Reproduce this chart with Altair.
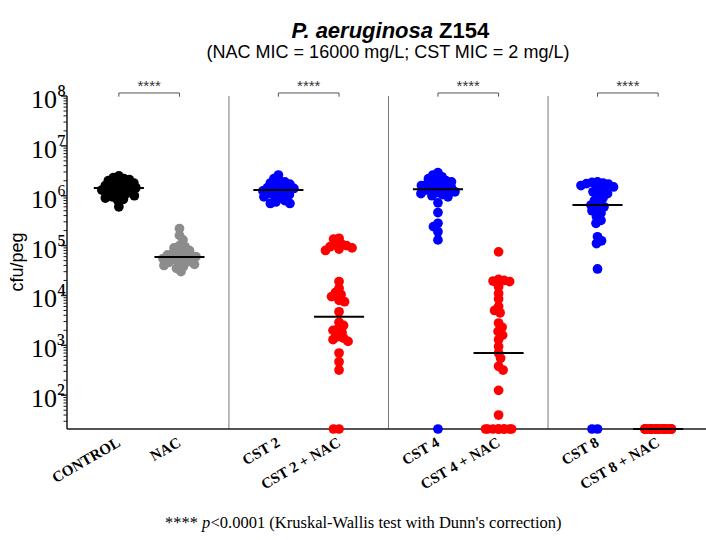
import math
import altair as alt
import pandas as pd

# ---------------- data ----------------
CATEGORIES = ["CONTROL", "NAC", "CST 2", "CST 2 + NAC",
              "CST 4", "CST 4 + NAC", "CST 8", "CST 8 + NAC"]
COLORS = ["#000000", "#8c8c8c", "#0000ff", "#ff0000",
          "#0000ff", "#ff0000", "#0000ff", "#ff0000"]

control = [2.5e6, 2.3e6, 2.2e6, 2.1e6, 2.0e6, 1.9e6, 1.8e6, 1.75e6, 1.7e6,
           1.6e6, 1.55e6, 1.5e6, 1.45e6, 1.4e6, 1.35e6, 1.3e6, 1.25e6, 1.2e6,
           1.15e6, 1.1e6, 1.05e6, 1.0e6, 9.5e5, 9e5, 8.5e5, 8e5, 6e5]
nac = [2.2e5, 1.6e5, 1.3e5, 1.0e5, 9.5e4, 9e4, 8e4, 7.5e4, 7e4, 6.8e4,
       6.5e4, 6.2e4, 6e4, 5.8e4, 5.5e4, 5.3e4, 5e4, 4.8e4, 4.6e4, 4.4e4,
       4.2e4, 4e4, 3.8e4, 3.5e4, 3e4]
cst2 = [2.6e6, 2.2e6, 2.0e6, 1.9e6, 1.8e6, 1.7e6, 1.6e6, 1.5e6, 1.45e6,
        1.4e6, 1.35e6, 1.3e6, 1.25e6, 1.2e6, 1.15e6, 1.1e6, 1.05e6, 1.0e6,
        9.5e5, 9e5, 8e5, 7.5e5, 7e5, 7e5]
cst2_nac = [1.4e5, 1.35e5, 1.1e5, 1.05e5, 1.0e5, 9.5e4, 9e4, 8.5e4, 8e4,
            1.9e4, 1.4e4, 1.15e4, 1.05e4, 9.5e3, 8e3, 7.5e3, 4.7e3, 2.9e3,
            2.5e3, 2.2e3, 2.0e3, 1.8e3, 1.5e3, 1.4e3, 1.3e3, 1.2e3, 7e2,
            4.7e2, 3.2e2, 0, 0]
cst4 = [2.9e6, 2.6e6, 2.4e6, 2.2e6, 2.1e6, 2.0e6, 1.9e6, 1.8e6, 1.75e6,
        1.7e6, 1.6e6, 1.55e6, 1.5e6, 1.45e6, 1.4e6, 1.35e6, 1.3e6, 1.25e6,
        1.2e6, 1.15e6, 1.1e6, 1.05e6, 1.0e6, 9.5e5, 7.2e5, 4.6e5, 2.8e5,
        2.4e5, 1.9e5, 1.3e5, 0]
cst4_nac = [7.5e4, 2.1e4, 2.0e4, 1.95e4, 1.9e4, 1.5e4, 1.1e4, 8.5e3, 6e3,
            5e3, 4.5e3, 2.8e3, 2.3e3, 1.9e3, 1.6e3, 1.3e3, 9.5e2, 7e2, 5.5e2,
            3.8e2, 3.2e2, 1.25e2, 4e1, 0, 0, 0, 0, 0, 0, 0, 0, 0]
cst8 = [1.9e6, 1.85e6, 1.8e6, 1.75e6, 1.7e6, 1.6e6, 1.5e6, 1.4e6, 1.3e6,
        1.2e6, 1.1e6, 1.0e6, 9e5, 8e5, 7e5, 6.5e5, 6e5, 5.5e5, 5e5, 4.5e5,
        3.8e5, 3.2e5, 2.8e5, 1.5e5, 1.25e5, 1.1e5, 3.4e4, 0, 0]
cst8_nac = [0] * 30

SERIES = [control, nac, cst2, cst2_nac, cst4, cst4_nac, cst8, cst8_nac]
MEDIANS = [1.43e6, 5.9e4, 1.3e6, 3.75e3, 1.35e6, 7.0e2, 6.5e5, 0]

Y_MAJOR = [1e2, 1e3, 1e4, 1e5, 1e6, 1e7, 1e8]
Y_MINOR_MULT = [2, 3, 4, 5, 6, 7, 8, 9]

TITLE_ITALIC = "P. aeruginosa"
TITLE_PLAIN = "Z154"
SUBTITLE = "(NAC MIC = 16000 mg/L; CST MIC = 2 mg/L)"
SIG = "****"
FOOT_PREFIX = "****"
FOOT_P = "p"
FOOT_REST = "<0.0001 (Kruskal-Wallis test with Dunn's correction)"
Y_TITLE = "cfu/peg"

# ---------------- layout ----------------
W, H = 639, 333
PAD_L, PAD_T = 67, 96
X_DOMAIN = [-0.015, 3.99]
Y_FLOOR = 21
Y_TOP = 1e8
PX_PER_UNIT = W / (X_DOMAIN[1] - X_DOMAIN[0])
PX_PER_DEC = H / (math.log10(Y_TOP) - math.log10(Y_FLOOR))
SIDE = 0.19
MED_HALF = 0.157
DOT_GAP = 5.5
AXIS_COLOR = "#1a1a1a"


def swarm(values, max_off):
    ys = [math.log10(max(v, Y_FLOOR)) * PX_PER_DEC for v in values]
    order = sorted(range(len(values)), key=lambda i: -ys[i])
    steps = []
    k = 0.5
    while k <= max_off + 1e-9:
        steps.append(k)
        k += 0.5
    placed = []
    offs = [0.0] * len(values)
    for n, i in enumerate(order):
        y = ys[i]
        sgn = 1 if n % 2 == 0 else -1
        cands = [0.0]
        for s in steps:
            cands += [sgn * s, -sgn * s]
        chosen = None
        for c in cands:
            if all((c - px) ** 2 + (y - py) ** 2 >= DOT_GAP ** 2 for px, py in placed):
                chosen = c
                break
        if chosen is None:
            chosen = min(cands, key=lambda c: sum(
                max(0.0, DOT_GAP - math.hypot(c - px, y - py)) for px, py in placed))
        placed.append((chosen, y))
        offs[i] = chosen
    return offs


centers = []
for i, cat in enumerate(CATEGORIES):
    g = i // 2
    centers.append(round(g + 0.5 + (SIDE if i % 2 else -SIDE), 4))

rows = []
for i, (cat, vals) in enumerate(zip(CATEGORIES, SERIES)):
    nz = [v for v in vals if v > 0]
    z = [v for v in vals if v <= 0]
    offs_nz = swarm(nz, 17)
    offs_z = swarm(z, 13)
    for v, o in zip(nz, offs_nz):
        rows.append({"cat": cat, "x": centers[i] + o / PX_PER_UNIT, "y": v})
    for v, o in zip(z, offs_z):
        rows.append({"cat": cat, "x": centers[i] + o / PX_PER_UNIT, "y": Y_FLOOR})
pts = pd.DataFrame(rows)

med = pd.DataFrame({
    "x": [c - MED_HALF for c in centers],
    "x2": [c + MED_HALF for c in centers],
    "y": [max(m, Y_FLOOR) for m in MEDIANS],
})

sep = pd.DataFrame({"x": [1, 2, 3], "y": [Y_FLOOR] * 3, "y2": [Y_TOP] * 3})

pairs = pd.DataFrame({
    "xl": [centers[2 * g] for g in range(4)],
    "xr": [centers[2 * g + 1] for g in range(4)],
    "xm": [(centers[2 * g] + centers[2 * g + 1]) / 2 for g in range(4)],
    "yb": [1.15e8] * 4,
    "ys": [1.62e8] * 4,
    "t": [SIG] * 4,
})
legs = pd.DataFrame({
    "x": list(pairs["xl"]) + list(pairs["xr"]),
    "y": [1.15e8] * 8,
    "y2": [0.97e8] * 8,
})

SUPS = "⁰¹²³⁴⁵⁶⁷⁸⁹"
ylab = pd.DataFrame({
    "v": Y_MAJOR,
    "base": ["10"] * len(Y_MAJOR),
    "exp": [SUPS[round(math.log10(v))] for v in Y_MAJOR],
})

minor = [m * 10 ** e for e in range(1, 8) for m in Y_MINOR_MULT
         if Y_FLOOR <= m * 10 ** e <= Y_TOP]
x0 = X_DOMAIN[0]
major_df = pd.DataFrame({"v": Y_MAJOR, "x": [x0 - 6 / PX_PER_UNIT] * len(Y_MAJOR),
                         "x2": [x0] * len(Y_MAJOR)})
minor_df = pd.DataFrame({"v": minor, "x": [x0 - 3.5 / PX_PER_UNIT] * len(minor),
                         "x2": [x0] * len(minor)})
yline_df = pd.DataFrame({"x": [x0], "y": [Y_FLOOR], "y2": [Y_TOP]})
xline_df = pd.DataFrame({"x": [x0], "x2": [X_DOMAIN[1]], "y": [Y_FLOOR]})
xlab_df = pd.DataFrame({"x": centers, "t": CATEGORIES})

xscale = alt.Scale(domain=X_DOMAIN, nice=False, zero=False)
yscale = alt.Scale(type="log", domain=[Y_FLOOR, Y_TOP], nice=False)

X = lambda f: alt.X(f, scale=xscale, axis=None)
Y = lambda f: alt.Y(f, scale=yscale, axis=None)

yline = alt.Chart(yline_df).mark_rule(color=AXIS_COLOR, strokeWidth=1.5).encode(
    x=X("x:Q"), y=Y("y:Q"), y2="y2:Q")
xline = alt.Chart(xline_df).mark_rule(color=AXIS_COLOR, strokeWidth=1.5).encode(
    x=X("x:Q"), x2="x2:Q", y=Y("y:Q"))
major_ticks = alt.Chart(major_df).mark_rule(color=AXIS_COLOR, strokeWidth=1.5).encode(
    x=X("x:Q"), x2="x2:Q", y=Y("v:Q"))
minor_ticks = alt.Chart(minor_df).mark_rule(color=AXIS_COLOR, strokeWidth=1).encode(
    x=X("x:Q"), x2="x2:Q", y=Y("v:Q"))

points = alt.Chart(pts).mark_circle(size=95, opacity=1).encode(
    x=X("x:Q"), y=Y("y:Q"),
    color=alt.Color("cat:N", scale=alt.Scale(domain=CATEGORIES, range=COLORS), legend=None),
)

separators = alt.Chart(sep).mark_rule(color="#777777", strokeWidth=1).encode(
    x=X("x:Q"), y=Y("y:Q"), y2="y2:Q")

medians = alt.Chart(med).mark_rule(color="black", strokeWidth=2).encode(
    x=X("x:Q"), x2="x2:Q", y=Y("y:Q"))

brackets = alt.Chart(pairs).mark_rule(color="#555555", strokeWidth=1).encode(
    x=X("xl:Q"), x2="xr:Q", y=Y("yb:Q"))
bracket_legs = alt.Chart(legs).mark_rule(color="#555555", strokeWidth=1).encode(
    x=X("x:Q"), y=Y("y:Q"), y2="y2:Q")
stars = alt.Chart(pairs).mark_text(font="Liberation Sans", fontSize=15, color="#333333",
                                   baseline="middle").encode(
    x=X("xm:Q"), y=Y("ys:Q"), text="t:N")

ybase = alt.Chart(ylab).mark_text(font="Liberation Serif", fontSize=26, color="black",
                                  align="right", baseline="middle", dy=4).encode(
    x=alt.value(-10), y=Y("v:Q"), text="base:N")
yexp = alt.Chart(ylab).mark_text(font="Liberation Serif", fontSize=26, color="black",
                                 align="left", baseline="middle", dy=-1).encode(
    x=alt.value(-10), y=Y("v:Q"), text="exp:N")

xlabels = alt.Chart(xlab_df).mark_text(
    font="Liberation Serif", fontSize=15, fontWeight="bold", color="black",
    align="right", baseline="middle", angle=330).encode(
    x=X("x:Q"), y=alt.value(H + 12), text="t:N")

ytitle = alt.Chart(pd.DataFrame({"t": [Y_TITLE]})).mark_text(
    font="Liberation Sans", fontSize=18, color="black", angle=270,
    align="center", baseline="middle").encode(
    x=alt.value(-49), y=alt.value(166), text="t:N")

t1 = alt.Chart(pd.DataFrame({"t": [TITLE_ITALIC]})).mark_text(
    font="Liberation Sans", fontSize=22, fontWeight="bold", fontStyle="italic",
    align="right", baseline="alphabetic", color="black").encode(
    x=alt.value(366), y=alt.value(-58), text="t:N")
t2 = alt.Chart(pd.DataFrame({"t": [TITLE_PLAIN]})).mark_text(
    font="Liberation Sans", fontSize=22, fontWeight="bold",
    align="left", baseline="alphabetic", color="black").encode(
    x=alt.value(372), y=alt.value(-58), text="t:N")
st = alt.Chart(pd.DataFrame({"t": [SUBTITLE]})).mark_text(
    font="Liberation Sans", fontSize=18, align="center", baseline="alphabetic",
    color="black").encode(x=alt.value(321), y=alt.value(-38), text="t:N")

FS = 16.5
f1 = alt.Chart(pd.DataFrame({"t": [FOOT_PREFIX]})).mark_text(
    font="Liberation Serif", fontSize=FS, align="left", baseline="alphabetic",
    color="black").encode(x=alt.value(98), y=alt.value(432), text="t:N")
f2 = alt.Chart(pd.DataFrame({"t": [FOOT_P]})).mark_text(
    font="Liberation Serif", fontSize=FS, fontStyle="italic", align="left",
    baseline="alphabetic", color="black").encode(x=alt.value(135), y=alt.value(432), text="t:N")
f3 = alt.Chart(pd.DataFrame({"t": [FOOT_REST]})).mark_text(
    font="Liberation Serif", fontSize=FS, align="left", baseline="alphabetic",
    color="black").encode(x=alt.value(143.5), y=alt.value(432), text="t:N")

chart = alt.layer(
    separators, xline, yline, major_ticks, minor_ticks, points, medians,
    brackets, bracket_legs, stars, ybase, yexp, xlabels, ytitle,
    t1, t2, st, f1, f2, f3
).properties(
    width=W, height=H, autosize="none", background="white",
    padding={"left": PAD_L, "top": PAD_T, "right": 0, "bottom": 540 - PAD_T - H},
).configure_view(stroke=None)

chart.save("out.html", embed_options={"renderer": "svg", "actions": False})
